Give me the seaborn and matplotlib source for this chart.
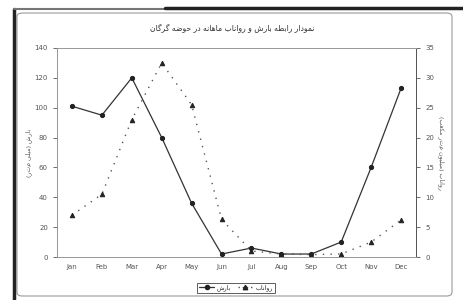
import numpy as np
import pandas as pd
import matplotlib
matplotlib.use("Agg")
import matplotlib.pyplot as plt
from matplotlib.patches import FancyBboxPatch
from matplotlib.lines import Line2D
import seaborn as sns

# داده ها (خوانده شده از تصویر)
months = ['Jan', 'Feb', 'Mar', 'Apr', 'May', 'Jun', 'Jul', 'Aug', 'Sep', 'Oct', 'Nov', 'Dec']
barsh = [101, 95, 120, 80, 36, 2, 6, 2, 2, 10, 60, 113]          # بارش - محور چپ
ravanab = [7, 10.5, 23, 32.5, 25.5, 6.3, 1, 0.5, 0.4, 0.5, 2.5, 6.2]  # رواناب - محور راست
left_ticks = [0, 20, 40, 60, 80, 100, 120, 140]
right_ticks = [0, 5, 10, 15, 20, 25, 30, 35]

title_fa = 'نمودار رابطه بارش و رواناب ماهانه در حوضه گرگان'
ylabel_left = 'بارش (میلی متر)'
ylabel_right = 'رواناب (میلیون متر مکعب)'
leg_left = 'بارش'
leg_right = 'رواناب'

# شکل دادن ساده حروف فارسی (matplotlib خودش اتصال حروف را انجام نمی دهد)
FORMS = {
    'ا': ('\uFE8D', '\uFE8E', None, None),
    'ب': ('\uFE8F', '\uFE90', '\uFE91', '\uFE92'),
    'ح': ('\uFEA1', '\uFEA2', '\uFEA3', '\uFEA4'),
    'د': ('\uFEA9', '\uFEAA', None, None),
    'ر': ('\uFEAD', '\uFEAE', None, None),
    'ش': ('\uFEB5', '\uFEB6', '\uFEB7', '\uFEB8'),
    'ض': ('\uFEBD', '\uFEBE', '\uFEBF', '\uFEC0'),
    'ط': ('\uFEC1', '\uFEC2', '\uFEC3', '\uFEC4'),
    'ع': ('\uFEC9', '\uFECA', '\uFECB', '\uFECC'),
    'ک': ('\uFB8E', '\uFB8F', '\uFB90', '\uFB91'),
    'گ': ('\uFB92', '\uFB93', '\uFB94', '\uFB95'),
    'ل': ('\uFEDD', '\uFEDE', '\uFEDF', '\uFEE0'),
    'م': ('\uFEE1', '\uFEE2', '\uFEE3', '\uFEE4'),
    'ن': ('\uFEE5', '\uFEE6', '\uFEE7', '\uFEE8'),
    'ه': ('\uFEE9', '\uFEEA', '\uFEEB', '\uFEEC'),
    'و': ('\uFEED', '\uFEEE', None, None),
    'ی': ('\uFBFC', '\uFBFD', '\uFBFE', '\uFBFF'),
}
MIRROR = {'(': ')', ')': '('}


def fa(text):
    out = []
    n = len(text)
    for i, ch in enumerate(text):
        if ch not in FORMS:
            out.append(MIRROR.get(ch, ch))
            continue
        prev = text[i - 1] if i > 0 else ''
        nxt = text[i + 1] if i < n - 1 else ''
        join_prev = prev in FORMS and FORMS[prev][2] is not None
        join_next = FORMS[ch][2] is not None and nxt in FORMS
        iso, fin, ini, med = FORMS[ch]
        if join_prev and join_next:
            out.append(med)
        elif join_prev:
            out.append(fin)
        elif join_next:
            out.append(ini)
        else:
            out.append(iso)
    return ''.join(reversed(out))


sns.set_style('white')
plt.rcParams['font.family'] = ['DejaVu Sans']

df = pd.DataFrame({'pos': np.arange(len(months)), 'month': months,
                   'barsh': barsh, 'ravanab': ravanab})

fig = plt.figure(figsize=(4.64, 3.0), dpi=100)
fig.patch.set_facecolor('white')

# قاب بیرونی نمودار
frame = FancyBboxPatch((17 / 464, 1 - 296 / 300), (452 - 17) / 464, (296 - 13) / 300,
                       boxstyle='round,pad=0,rounding_size=0.012', transform=fig.transFigure,
                       facecolor='none', edgecolor='#9a9a9a', linewidth=0.8)
fig.patches.append(frame)
fig.lines.append(Line2D([14 / 464, 14 / 464], [0, 1 - 9 / 300], transform=fig.transFigure,
                        color='#222222', linewidth=2.5))
fig.lines.append(Line2D([14 / 464, 165 / 464], [1 - 9 / 300, 1 - 9 / 300], transform=fig.transFigure,
                        color='#777777', linewidth=1.5))
fig.lines.append(Line2D([165 / 464, 1], [1 - 8 / 300, 1 - 8 / 300], transform=fig.transFigure,
                        color='#222222', linewidth=2.5))

ax = fig.add_axes([57 / 464, 1 - 257 / 300, (416 - 57) / 464, (257 - 48) / 300])
ax2 = ax.twinx()

sns.lineplot(data=df, x='pos', y='barsh', ax=ax, color='#333333', linewidth=0.9,
             marker='o', markersize=3.0, markeredgecolor='#222222', markerfacecolor='#222222')
sns.lineplot(data=df, x='pos', y='ravanab', ax=ax2, color='#555555', linewidth=1.0,
             linestyle=(0, (1, 4.5)), marker='^', markersize=3.2,
             markeredgecolor='#222222', markerfacecolor='#222222')

ax.set_xlim(-0.5, len(months) - 0.5)
ax.set_ylim(0, 140)
ax2.set_ylim(0, 35)
ax.set_yticks(left_ticks)
ax2.set_yticks(right_ticks)
ax.set_xticks(np.arange(len(months) + 1) - 0.5)
ax.set_xticklabels([])
ax.set_xticks(np.arange(len(months)), minor=True)
ax.set_xticklabels(months, minor=True)
ax.tick_params(axis='x', which='major', length=3, width=0.6, color='#555555', direction='out')
ax.tick_params(axis='x', which='minor', length=0, labelsize=5, labelcolor='#555555', pad=5)
ax.tick_params(axis='y', length=3, width=0.6, color='#555555', direction='out',
               labelsize=5, labelcolor='#555555', left=True)
ax2.tick_params(axis='y', length=3, width=0.6, color='#555555', direction='out',
                labelsize=5, labelcolor='#555555', right=True)

for a in (ax, ax2):
    for s in a.spines.values():
        s.set_color('#9a9a9a')
        s.set_linewidth(0.7)
ax.spines['left'].set_color('#555555')
ax.spines['bottom'].set_color('#555555')
ax2.spines['right'].set_color('#555555')

ax.set_xlabel('')
ax.set_ylabel(fa(ylabel_left), fontsize=4.5, color='#555555', labelpad=2)
ax2.set_ylabel(fa(ylabel_right), fontsize=4.5, color='#555555', labelpad=8, rotation=270)

fig.text(232 / 464, 1 - 29 / 300, fa(title_fa), ha='center', va='center',
         fontsize=5.5, color='#333333')

handles = [Line2D([], [], color='#333333', linewidth=0.9, marker='o', markersize=3,
                  markerfacecolor='#222222', markeredgecolor='#222222'),
           Line2D([], [], color='#555555', linewidth=1.0, linestyle=(0, (1, 2)), marker='^',
                  markersize=3.2, markerfacecolor='#222222', markeredgecolor='#222222')]
leg = fig.legend(handles, [fa(leg_left), fa(leg_right)], loc='center',
                 bbox_to_anchor=(236 / 464, 1 - 288 / 300), ncol=2, fontsize=4.5,
                 frameon=True, fancybox=False, edgecolor='#333333', handlelength=2.5,
                 handletextpad=0.4, columnspacing=1.0, borderpad=0.3)
leg.get_frame().set_linewidth(0.7)

fig.savefig('out.png', dpi=100, facecolor='white')
